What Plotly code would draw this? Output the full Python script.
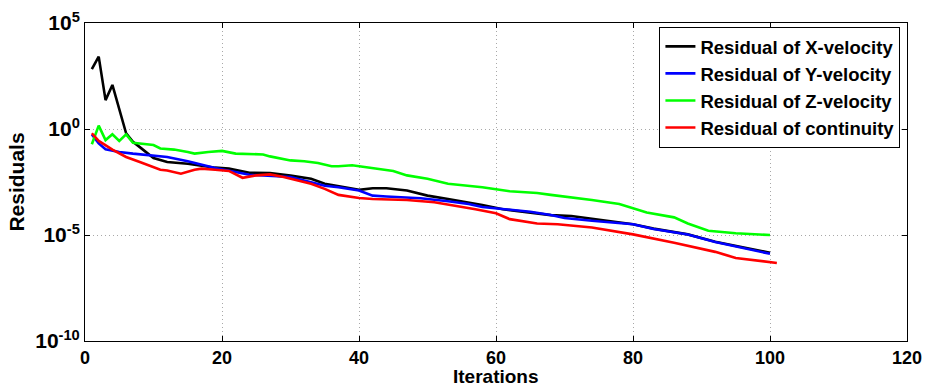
import plotly.graph_objects as go

# ---- data ----
iter_x = [1, 2, 3, 4, 6, 7, 8, 10, 12, 15, 19, 21, 24, 27, 30, 33, 35, 37, 40, 42,
          44, 47, 50, 53, 56, 58, 61, 66, 68, 71, 74, 80, 83, 88, 92, 95, 100]
res_x = [6.6e2, 2.6e3, 2.3e1, 1.2e2, 6.3e-1, 2.5e-1, 1.4e-1, 4.3e-2, 2.8e-2, 2.3e-2,
         1.5e-2, 1.35e-2, 8.7e-3, 8.3e-3, 6.3e-3, 4.5e-3, 2.6e-3, 2.0e-3, 1.35e-3, 1.6e-3,
         1.6e-3, 1.25e-3, 7.2e-4, 5.0e-4, 3.5e-4, 2.6e-4, 1.65e-4, 1.05e-4, 8.7e-5, 7.9e-5,
         6.0e-5, 3.2e-5, 2.0e-5, 1.07e-5, 4.8e-6, 3.0e-6, 1.45e-6]

iter_y = [1, 2, 3, 5, 7, 10, 12, 15, 19, 24, 30, 35, 37, 40, 42, 44, 49, 53, 56, 58,
          61, 65, 68, 70, 74, 80, 83, 88, 92, 95, 100]
res_y = [5.6e-1, 2.1e-1, 1.1e-1, 8.3e-2, 6.9e-2, 5.8e-2, 4.8e-2, 3.0e-2, 1.45e-2, 6.9e-3,
         5.4e-3, 2.1e-3, 1.8e-3, 1.25e-3, 7.2e-4, 6.5e-4, 5.4e-4, 3.9e-4, 2.9e-4, 2.1e-4,
         1.65e-4, 1.25e-4, 8.7e-5, 6.3e-5, 4.7e-5, 3.2e-5, 1.9e-5, 1.05e-5, 4.7e-6, 2.9e-6,
         1.3e-6]

iter_z = [1, 2, 3, 4, 5, 6, 7, 9, 10, 11, 13, 15, 16, 18, 20, 22, 26, 27, 30, 32,
          34, 36, 37, 39, 43, 45, 47, 50, 53, 56, 58, 62, 66, 68, 71, 74, 78, 82, 86,
          88, 91, 95, 100]
res_z = [1.9e-1, 1.45e0, 3.0e-1, 5.6e-1, 2.75e-1, 5.6e-1, 2.25e-1, 1.9e-1, 1.75e-1, 1.2e-1,
         1.07e-1, 8.3e-2, 6.9e-2, 8.3e-2, 9.3e-2, 6.9e-2, 6.3e-2, 5.1e-2, 3.3e-2, 3.0e-2,
         2.5e-2, 1.75e-2, 1.75e-2, 1.95e-2, 1.35e-2, 1.05e-2, 6.5e-3, 4.5e-3, 2.6e-3, 2.1e-3,
         1.8e-3, 1.15e-3, 9.5e-4, 7.8e-4, 6.0e-4, 4.5e-4, 2.9e-4, 1.15e-4, 6.8e-5,
         3.5e-5, 1.6e-5, 1.2e-5, 1.0e-5]

iter_c = [1, 2, 4, 6, 8, 11, 12, 14, 16, 17, 19, 21, 23, 25, 27, 29, 33, 35, 37, 40,
          42, 47, 51, 56, 57, 60, 62, 66, 69, 74, 80, 86, 92, 95, 101]
res_c = [6.3e-1, 2.75e-1, 1.07e-1, 4.8e-2, 2.75e-2, 1.2e-2, 1.1e-2, 7.8e-3, 1.2e-2, 1.35e-2,
         1.2e-2, 1.05e-2, 5.0e-3, 6.5e-3, 7.2e-3, 5.4e-3, 2.6e-3, 1.5e-3, 7.8e-4, 5.6e-4,
         5.0e-4, 4.5e-4, 3.5e-4, 2.0e-4, 1.65e-4, 1.05e-4, 5.6e-5, 3.5e-5, 3.2e-5,
         2.25e-5, 1.07e-5, 4.3e-6, 1.6e-6, 8.3e-7, 4.8e-7]

names = ["Residual of X-velocity", "Residual of Y-velocity",
         "Residual of Z-velocity", "Residual of continuity"]
colors = ["#000000", "#0000ff", "#00ff00", "#ff0000"]

y_tickvals = [1e-10, 1e-5, 1e0, 1e5]
y_ticktext = ["10<sup>-10</sup>", "10<sup>-5</sup>", "10<sup>0</sup>", "10<sup>5</sup>"]
x_tickvals = [0, 20, 40, 60, 80, 100, 120]
x_title = "Iterations"
y_title = "Residuals"

series = [(iter_x, res_x), (iter_y, res_y), (iter_z, res_z), (iter_c, res_c)]

fig = go.Figure()
for (xs, ys), nm, col in zip(series, names, colors):
    fig.add_trace(go.Scatter(x=xs, y=ys, mode="lines", name=nm,
                             line=dict(color=col, width=2.6)))

font_fam = "Liberation Sans, Arial, sans-serif"
fig.update_layout(
    width=926, height=388,
    margin=dict(l=85, r=19, t=23, b=47),
    paper_bgcolor="white", plot_bgcolor="white",
    font=dict(family=font_fam, color="black"),
    showlegend=True,
    legend=dict(x=0.992, y=0.988, xanchor="right", yanchor="top",
                bgcolor="white", bordercolor="black", borderwidth=1,
                font=dict(size=18.5, family=font_fam, weight="bold"),
                tracegroupgap=0, itemwidth=30),
)
fig.add_annotation(
    text=x_title, xref="paper", yref="paper", x=0.5, y=0,
    xanchor="center", yanchor="bottom", yshift=-47, showarrow=False,
    font=dict(size=19, weight="bold", family=font_fam), borderpad=0,
)
fig.update_xaxes(
    range=[0, 120], tickvals=x_tickvals, automargin=False,
    showline=True, linecolor="black", linewidth=1, mirror="ticks",
    ticks="inside", ticklen=5, tickcolor="black",
    showgrid=True, gridcolor="#a8a8a8", griddash="1px,3px", gridwidth=1,
    zeroline=False,
    tickfont=dict(size=18, weight="bold"),
)
fig.update_yaxes(
    type="log", range=[-10, 5], tickvals=y_tickvals, ticktext=y_ticktext,
    automargin=False,
    showline=True, linecolor="black", linewidth=1, mirror="ticks",
    ticks="inside", ticklen=5, tickcolor="black",
    showgrid=True, gridcolor="#a8a8a8", griddash="1px,3px", gridwidth=1,
    zeroline=False,
    tickfont=dict(size=21, weight="bold"),
    title=dict(text=y_title, font=dict(size=21, weight="bold"), standoff=4),
)

fig.write_html("out.html")
